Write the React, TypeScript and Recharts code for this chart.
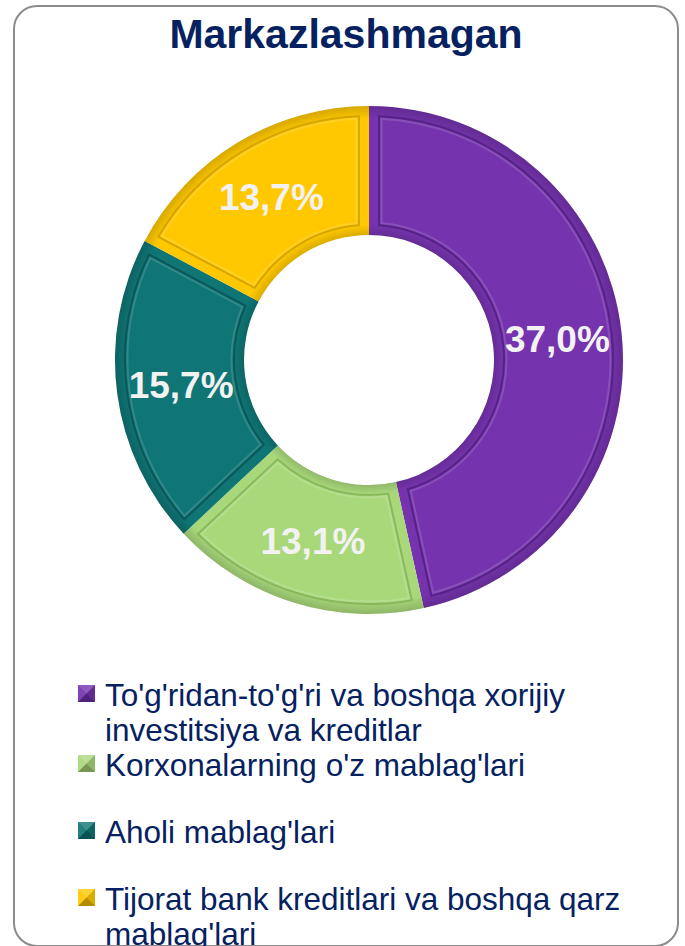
import React from 'react'
import { PieChart, Pie, Cell, Legend } from 'recharts'

// Funding sources (decentralised investments), shares in %
const categories = [
  "To'g'ridan-to'g'ri va boshqa xorijiy investitsiya va kreditlar",
  "Korxonalarning o'z mablag'lari",
  "Aholi mablag'lari",
  "Tijorat bank kreditlari va boshqa qarz mablag'lari",
]
const shares = [37.0, 13.1, 15.7, 13.7]
const colors = ['#7533AD', '#A9D87B', '#107575', '#FFC800']
const edgeColors = ['#4E1D7A', '#7FAE55', '#094F4F', '#C99A00']

const data = categories.map((name, i) => ({ name, value: shares[i] }))

const FONT = '"Liberation Sans", Arial, sans-serif'
const NAVY = '#06215F'
const RAD = Math.PI / 180

const pt = (cx: number, cy: number, r: number, a: number) => [
  cx + r * Math.cos(-a * RAD),
  cy + r * Math.sin(-a * RAD),
]

// sector shrunk by a constant distance d on every side
const insetPath = (cx: number, cy: number, r0: number, r1: number, a0: number, a1: number, d: number) => {
  const sign = a0 >= a1 ? 1 : -1
  const ri = r0 + d
  const ro = r1 - d
  const dOut = Math.asin(d / ro) / RAD
  const dIn = Math.asin(d / ri) / RAD
  const s1 = a0 - sign * dOut
  const e1 = a1 + sign * dOut
  const s0 = a0 - sign * dIn
  const e0 = a1 + sign * dIn
  const sweep = sign > 0 ? 1 : 0
  const [x1, y1] = pt(cx, cy, ro, s1)
  const [x2, y2] = pt(cx, cy, ro, e1)
  const [x3, y3] = pt(cx, cy, ri, e0)
  const [x4, y4] = pt(cx, cy, ri, s0)
  const lo = Math.abs(s1 - e1) > 180 ? 1 : 0
  const li = Math.abs(s0 - e0) > 180 ? 1 : 0
  return `M${x1},${y1} A${ro},${ro} 0 ${lo} ${sweep} ${x2},${y2} L${x3},${y3} A${ri},${ri} 0 ${li} ${1 - sweep} ${x4},${y4} Z`
}

const renderSlice = (props: any) => {
  const { cx, cy, innerRadius, outerRadius, startAngle, endAngle, midAngle, value, index } = props
  const rMid = (innerRadius + outerRadius) / 2
  const [tx, ty] = pt(cx, cy, rMid, midAngle)
  const gid = `shade-${index}`
  const inner = innerRadius / outerRadius
  return (
    <g>
      <defs>
        <radialGradient id={gid} cx={cx} cy={cy} r={outerRadius} gradientUnits="userSpaceOnUse">
          <stop offset={inner} stopColor="#000" stopOpacity={0.14} />
          <stop offset={inner + 0.04} stopColor="#000" stopOpacity={0} />
          <stop offset={0.95} stopColor="#000" stopOpacity={0} />
          <stop offset={1} stopColor="#000" stopOpacity={0.16} />
        </radialGradient>
      </defs>
      <path d={insetPath(cx, cy, innerRadius, outerRadius, startAngle, endAngle, 0.01)} fill={`url(#${gid})`} />
      <path
        d={insetPath(cx, cy, innerRadius, outerRadius, startAngle, endAngle, 10)}
        fill={colors[index]}
        stroke={edgeColors[index]}
        strokeWidth={2}
        strokeOpacity={0.75}
      />
      <path
        d={insetPath(cx, cy, innerRadius, outerRadius, startAngle, endAngle, 12.5)}
        fill="none"
        stroke="#fff"
        strokeWidth={2}
        strokeOpacity={0.14}
      />
      <text
        x={tx}
        y={ty}
        textAnchor="middle"
        dominantBaseline="central"
        fill="#F2F2F2"
        fontSize={37}
        fontWeight="bold"
        fontFamily={FONT}
      >
        {value.toFixed(1).replace('.', ',')}%
      </text>
    </g>
  )
}

const Marker = ({ color }: { color: string }) => (
  <svg width={17} height={17} style={{ flexShrink: 0, marginTop: 7, marginRight: 10 }}>
    <rect width={17} height={17} fill={color} />
    <polygon points="0,0 17,0 8.5,8.5" fill="#fff" fillOpacity={0.2} />
    <polygon points="0,0 8.5,8.5 0,17" fill="#fff" fillOpacity={0.08} />
    <polygon points="0,17 8.5,8.5 17,17" fill="#000" fillOpacity={0.3} />
    <polygon points="17,0 17,17 8.5,8.5" fill="#000" fillOpacity={0.15} />
  </svg>
)

const renderLegend = () => (
  <div style={{ fontFamily: FONT, fontSize: 31.5, lineHeight: '35px', color: NAVY }}>
    {data.map((d, i) => (
      <div key={d.name} style={{ display: 'flex', alignItems: 'flex-start', minHeight: 67 }}>
        <Marker color={colors[i]} />
        <span style={{ width: 560 }}>{d.name}</span>
      </div>
    ))}
  </div>
)

export default function App() {
  return (
    <div style={{ position: 'absolute', left: 0, top: 0, width: 685, height: 946, overflow: 'hidden', background: '#fff' }}>
      <div
        style={{
          position: 'absolute',
          left: 13,
          top: 5,
          width: 666,
          height: 942,
          border: '2.5px solid #8C8C8C',
          borderRadius: 24,
          boxSizing: 'border-box',
        }}
      />
      <div
        style={{
          position: 'absolute',
          left: 13,
          top: 11,
          width: 666,
          textAlign: 'center',
          fontFamily: FONT,
          fontWeight: 'bold',
          fontSize: 41,
          lineHeight: '46px',
          color: NAVY,
        }}
      >
        Markazlashmagan
      </div>
      <div style={{ position: 'absolute', left: 0, top: 0 }}>
        <PieChart width={685} height={946} margin={{ top: 0, right: 0, bottom: 0, left: 0 }}>
          <Pie
            data={data}
            dataKey="value"
            nameKey="name"
            cx={369}
            cy={360}
            innerRadius={125}
            outerRadius={254}
            startAngle={90}
            endAngle={-270}
            stroke="none"
            label={renderSlice}
            labelLine={false}
            isAnimationActive={false}
          >
            {data.map((d, i) => (
              <Cell key={d.name} fill={colors[i]} />
            ))}
          </Pie>
          <Legend
            content={renderLegend}
            wrapperStyle={{ position: 'absolute', top: 678, left: 78, width: 600 }}
          />
        </PieChart>
      </div>
    </div>
  )
}
